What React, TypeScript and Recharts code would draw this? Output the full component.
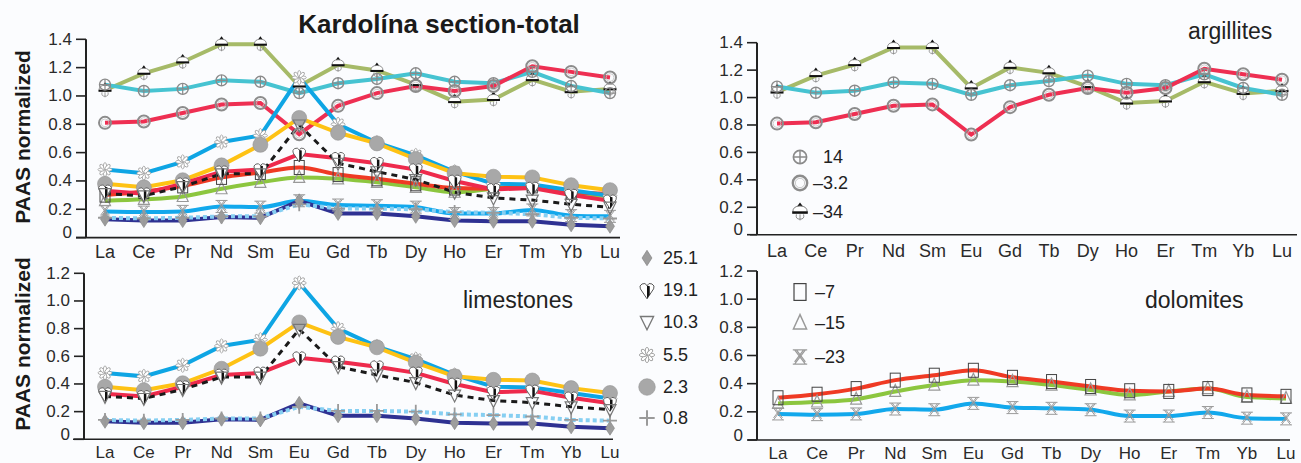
import React from 'react';
import { LineChart, Line, XAxis, YAxis } from 'recharts';

const elements = ['La', 'Ce', 'Pr', 'Nd', 'Sm', 'Eu', 'Gd', 'Tb', 'Dy', 'Ho', 'Er', 'Tm', 'Yb', 'Lu'];

// argillites
const arg14 = [1.08, 1.035, 1.05, 1.11, 1.1, 1.02, 1.09, 1.12, 1.16, 1.1, 1.09, 1.17, 1.07, 1.02];
const argM3_2 = [0.81, 0.82, 0.88, 0.94, 0.95, 0.73, 0.93, 1.02, 1.07, 1.035, 1.07, 1.21, 1.17, 1.13];
const argM34 = [1.04, 1.16, 1.24, 1.365, 1.365, 1.07, 1.22, 1.18, 1.08, 0.96, 0.975, 1.115, 1.03, 1.05];

// limestones
const lim25_1 = [0.13, 0.12, 0.12, 0.145, 0.14, 0.26, 0.17, 0.17, 0.15, 0.12, 0.115, 0.115, 0.09, 0.08];
const lim19_1 = [0.33, 0.31, 0.38, 0.465, 0.48, 0.59, 0.56, 0.525, 0.48, 0.4, 0.34, 0.35, 0.3, 0.26];
const lim10_3 = [0.31, 0.295, 0.36, 0.45, 0.45, 0.795, 0.525, 0.465, 0.41, 0.32, 0.28, 0.265, 0.235, 0.215];
const lim5_5 = [0.48, 0.455, 0.535, 0.675, 0.72, 1.13, 0.8, 0.67, 0.58, 0.465, 0.38, 0.375, 0.335, 0.295];
const lim2_3 = [0.38, 0.355, 0.405, 0.51, 0.655, 0.845, 0.74, 0.665, 0.555, 0.455, 0.43, 0.425, 0.37, 0.335];
const lim0_8 = [0.14, 0.135, 0.14, 0.15, 0.15, 0.235, 0.205, 0.205, 0.2, 0.18, 0.175, 0.165, 0.14, 0.135];

// dolomites
const dolM7 = [0.3, 0.325, 0.365, 0.425, 0.46, 0.495, 0.445, 0.415, 0.38, 0.35, 0.345, 0.365, 0.32, 0.31];
const dolM15 = [0.26, 0.27, 0.29, 0.345, 0.39, 0.425, 0.415, 0.39, 0.355, 0.32, 0.345, 0.365, 0.305, 0.295];
const dolM23 = [0.185, 0.18, 0.185, 0.22, 0.215, 0.26, 0.23, 0.225, 0.215, 0.17, 0.17, 0.195, 0.155, 0.15];

const ticks14 = [0, 0.2, 0.4, 0.6, 0.8, 1.0, 1.2, 1.4];
const ticks12 = [0, 0.2, 0.4, 0.6, 0.8, 1.0, 1.2];

const argLegend = ['14', '–3.2', '–34'];
const limLegend = ['25.1', '19.1', '10.3', '5.5', '2.3', '0.8'];
const dolLegend = ['–7', '–15', '–23'];

const rows = elements.map((el, i) => ({
  el,
  a14: arg14[i], a32: argM3_2[i], a34: argM34[i],
  l251: lim25_1[i], l191: lim19_1[i], l103: lim10_3[i], l55: lim5_5[i], l23: lim2_3[i], l08: lim0_8[i],
  d7: dolM7[i], d15: dolM15[i], d23: dolM23[i],
}));

type S = { key: string; color: string; marker: string; dash?: string; curve?: 'linear' | 'monotone'; w?: number };

const ARG: S[] = [
  { key: 'a34', color: '#a6ba68', marker: 'bell' },
  { key: 'a14', color: '#46c3d1', marker: 'oplus' },
  { key: 'a32', color: '#ee2f52', marker: 'ring' },
];
const LIM: S[] = [
  { key: 'l251', color: '#2e3192', marker: 'diamond' },
  { key: 'l08', color: '#86cff2', marker: 'plus', dash: '4 3' },
  { key: 'l55', color: '#0ea5e4', marker: 'flower' },
  { key: 'l23', color: '#fec214', marker: 'disc' },
  { key: 'l191', color: '#ee2a4c', marker: 'heart' },
  { key: 'l103', color: '#1a1a1a', marker: 'tridown', dash: '6 5', w: 3 },
];
const DOL: S[] = [
  { key: 'd23', color: '#12a8ec', marker: 'xglass', curve: 'monotone' },
  { key: 'd15', color: '#8cc63f', marker: 'triup', curve: 'monotone' },
  { key: 'd7', color: '#ef3a24', marker: 'square', curve: 'monotone' },
];

function Marker({ kind, cx, cy, s = 1 }: { kind: string; cx: number; cy: number; s?: number }) {
  const t = `translate(${cx},${cy}) scale(${s})`;
  switch (kind) {
    case 'oplus':
      return (
        <g transform={t}>
          <circle r={5.5} fill="none" stroke="#8a8a8a" strokeWidth={1.4} />
          <path d="M-5.5 0H5.5M0 -5.5V5.5" stroke="#8a8a8a" strokeWidth={1.2} />
        </g>
      );
    case 'ring':
      return (
        <g transform={t}>
          <circle r={6} fill="none" stroke="#8c8c8c" strokeWidth={2} />
          <circle r={3.9} fill="none" stroke="#c4c4c4" strokeWidth={0.8} />
        </g>
      );
    case 'bell':
      return (
        <g transform={t}>
          <path d="M0 -8 L-2.5 -4.5 H2.5 Z" fill="#111" />
          <path d="M-6 0 Q-6 -5 0 -5 Q6 -5 6 0 Z" fill="#fff" stroke="#777" strokeWidth={0.8} />
          <rect x={-6.5} y={-0.5} width={13} height={2} fill="#111" />
          <path d="M-3 2 Q-4 6 0 6 Q4 6 3 2 M0 2 V7" fill="none" stroke="#888" strokeWidth={0.8} />
        </g>
      );
    case 'diamond':
      return <polygon transform={t} points="0,-7 4.5,0 0,7 -4.5,0" fill="#9d9d9d" stroke="#808080" strokeWidth={0.6} />;
    case 'heart':
      return (
        <g transform={t}>
          <path d="M0 8 L-6 -1 A3.2 3.2 0 0 1 0 -4 A3.2 3.2 0 0 1 6 -1 Z" fill="#fff" stroke="#555" strokeWidth={0.9} />
          <path d="M0 -4 L0 8 L2.5 4 V-3.5 Z" fill="#111" />
        </g>
      );
    case 'tridown':
      return <polygon transform={t} points="-6,-5 6,-5 0,7" fill="none" stroke="#777" strokeWidth={1.2} />;
    case 'flower':
      return (
        <g transform={t}>
          {[0, 45, 90, 135, 180, 225, 270, 315].map((a) => (
            <ellipse key={a} cx={3.6} cy={0} rx={3.4} ry={1.6} transform={`rotate(${a})`} fill="#fff" stroke="#999" strokeWidth={0.8} />
          ))}
        </g>
      );
    case 'disc':
      return <circle transform={t} r={7.5} fill="#a8a8a8" stroke="#959595" strokeWidth={0.6} />;
    case 'plus':
      return <path transform={t} d="M-7 0H7M0 -7V7" stroke="#9a9a9a" strokeWidth={1.8} />;
    case 'square':
      return <rect transform={t} x={-5} y={-7} width={10} height={14} fill="none" stroke="#444" strokeWidth={1} />;
    case 'triup':
      return <polygon transform={t} points="0,-7 -5.5,5 5.5,5" fill="none" stroke="#999" strokeWidth={1.2} />;
    case 'xglass':
      return (
        <path transform={t} d="M-6 -6H6M-6 6H6M-4.5 -6L4.5 6M4.5 -6L-4.5 6M-3 -6L4.5 4M3 -6L-4.5 4" stroke="#9b9b9b" strokeWidth={1} fill="none" />
      );
    default:
      return null;
  }
}

const YTick = (props: any) => {
  const { x, y, payload } = props;
  const v = payload.value as number;
  return (
    <text x={x} y={v === 0 ? y - 5 : y} textAnchor="end" dominantBaseline="central" fontSize={17} fill="#2a2a2a">
      {v === 0 ? '0' : v.toFixed(1)}
    </text>
  );
};

type Box = { left: number; top: number; width: number; height: number };
type Plot = { left: number; top: number; right: number; bottom: number };

const YW = 60;
const XH = 30;

function Panel({ box, plot, series, ticks, padL, padR, tickMargin, fs = 18 }: {
  box: Box; plot: Plot; series: S[]; ticks: number[]; padL: number; padR: number; tickMargin: number; fs?: number;
}) {
  const margin = {
    left: plot.left - box.left - YW,
    top: plot.top - box.top,
    right: box.left + box.width - plot.right,
    bottom: box.top + box.height - plot.bottom - XH,
  };
  return (
    <div style={{ position: 'absolute', left: box.left, top: box.top }}>
      <LineChart width={box.width} height={box.height} data={rows} margin={margin}>
        <XAxis
          dataKey="el"
          interval={0}
          tickSize={0}
          tickLine={false}
          tickMargin={tickMargin}
          height={XH}
          padding={{ left: padL, right: padR }}
          axisLine={{ stroke: '#222', strokeWidth: 1.6 }}
          tick={{ fontSize: fs, fill: '#2a2a2a' }}
        />
        <YAxis
          width={YW}
          domain={[0, ticks[ticks.length - 1]]}
          ticks={ticks}
          interval={0}
          tickSize={10}
          tickMargin={4}
          axisLine={{ stroke: '#222', strokeWidth: 2 }}
          tickLine={{ stroke: '#222', strokeWidth: 1.6 }}
          tick={<YTick />}
        />
        {series.map((s) => (
          <Line
            key={s.key}
            dataKey={s.key}
            type={s.curve || 'linear'}
            stroke={s.color}
            strokeWidth={s.w || 4}
            strokeDasharray={s.dash}
            isAnimationActive={false}
            legendType="none"
            activeDot={false}
            dot={(p: any) => <Marker key={`${s.key}-${p.index}`} kind={s.marker} cx={p.cx} cy={p.cy} />}
          />
        ))}
      </LineChart>
    </div>
  );
}

export default function App() {
  const font = '"Liberation Sans", Arial, Helvetica, sans-serif';
  const limMarkers = ['diamond', 'heart', 'tridown', 'flower', 'disc', 'plus'];
  const limY = [258, 290, 322, 355, 387, 418];
  const argMarkers = ['oplus', 'ring', 'bell'];
  const argY = [157, 183, 212];
  const argX = [823, 813, 813];
  const dolMarkers = ['square', 'triup', 'xglass'];
  const dolY = [292, 323, 357];
  return (
    <div style={{ position: 'absolute', left: 0, top: 0, width: 1301, height: 463, background: '#fbfcfe', fontFamily: font, overflow: 'hidden' }}>
      <Panel
        box={{ left: 0, top: 0, width: 640, height: 270 }}
        plot={{ left: 86, top: 39.3, right: 620, bottom: 237.6 }}
        series={[...ARG, ...DOL, ...LIM]}
        ticks={ticks14}
        padL={19}
        padR={10}
        tickMargin={8}
      />
      <Panel
        box={{ left: 640, top: 0, width: 661, height: 270 }}
        plot={{ left: 757, top: 42.7, right: 1297, bottom: 234.7 }}
        series={ARG}
        ticks={ticks14}
        padL={20}
        padR={15}
        tickMargin={10}
      />
      <Panel
        box={{ left: 0, top: 262, width: 640, height: 201 }}
        plot={{ left: 84, top: 273.3, right: 613, bottom: 439.3 }}
        series={LIM}
        ticks={ticks12}
        padL={21}
        padR={3}
        tickMargin={7}
        fs={17}
      />
      <Panel
        box={{ left: 640, top: 262, width: 661, height: 201 }}
        plot={{ left: 757, top: 271, right: 1290, bottom: 440 }}
        series={DOL}
        ticks={ticks12}
        padL={21}
        padR={4}
        tickMargin={6.5}
        fs={17}
      />
      <svg width={1301} height={463} style={{ position: 'absolute', left: 0, top: 0, pointerEvents: 'none' }}>
        {/* short extensions of the x-axis lines to the left of the y-axis */}
        <path d="M76 237.6H86M750 234.7H757M73 439.3H84M748 440H757" stroke="#222" strokeWidth={1.6} />
        <text x={439} y={24} textAnchor="middle" dominantBaseline="central" fontSize={26} fontWeight="bold" fill="#1a1a1a">
          Kardolína section-total
        </text>
        <text transform="translate(22,137) rotate(-90)" textAnchor="middle" dominantBaseline="central" fontSize={21} fontWeight="bold" fill="#1a1a1a">
          PAAS normalized
        </text>
        <text transform="translate(22,344) rotate(-90)" textAnchor="middle" dominantBaseline="central" fontSize={21} fontWeight="bold" fill="#1a1a1a">
          PAAS normalized
        </text>
        <text x={1188} y={39} fontSize={23} fill="#222">argillites</text>
        <text x={463} y={308} fontSize={23} fill="#222">limestones</text>
        <text x={1145} y={308} fontSize={23} fill="#222">dolomites</text>
        {argLegend.map((l, i) => (
          <g key={l}>
            <Marker kind={argMarkers[i]} cx={800} cy={argY[i]} s={1.2} />
            <text x={argX[i]} y={argY[i]} dominantBaseline="central" fontSize={18} fill="#222">{l}</text>
          </g>
        ))}
        {limLegend.map((l, i) => (
          <g key={l}>
            <Marker kind={limMarkers[i]} cx={647} cy={limY[i]} s={1.1} />
            <text x={663} y={limY[i]} dominantBaseline="central" fontSize={18} fill="#222">{l}</text>
          </g>
        ))}
        {dolLegend.map((l, i) => (
          <g key={l}>
            <Marker kind={dolMarkers[i]} cx={800} cy={dolY[i]} s={1.2} />
            <text x={815} y={dolY[i]} dominantBaseline="central" fontSize={18} fill="#222">{l}</text>
          </g>
        ))}
      </svg>
    </div>
  );
}
